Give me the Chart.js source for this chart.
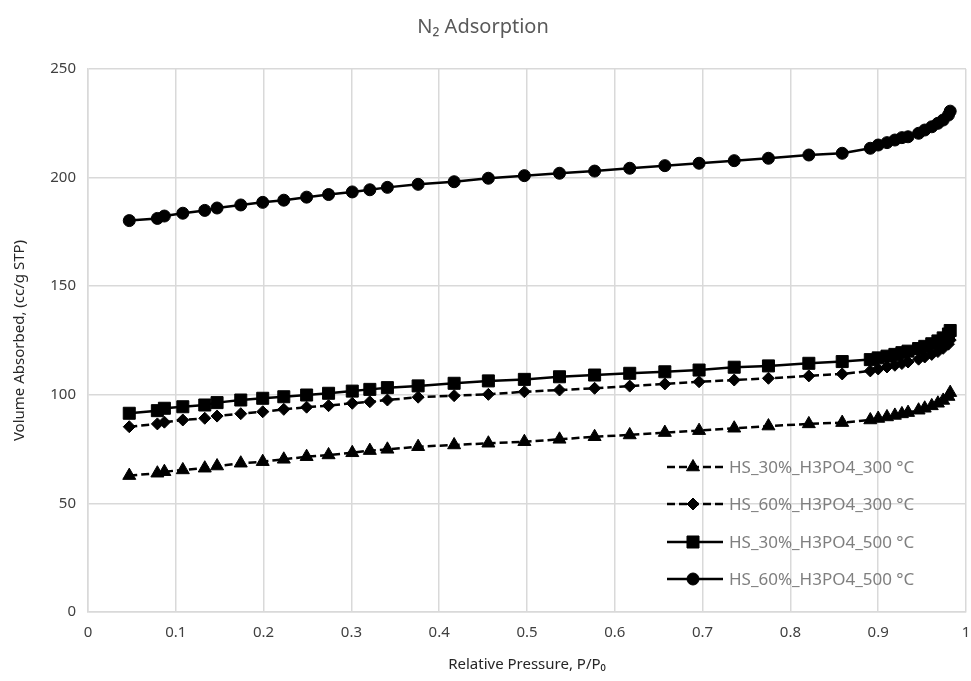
<!DOCTYPE html>
<html>
<head>
<meta charset="utf-8">
<title>N2 Adsorption</title>
<script src="https://cdn.jsdelivr.net/npm/chart.js@4.4.0/dist/chart.umd.min.js"></script>
<style>
  html, body { margin: 0; padding: 0; background: #fff; }
</style>
</head>
<body>
<canvas id="myChart" width="971" height="681"></canvas>
<script>
// relative pressure P/P0 (same for all four isotherms)
const pressure = [0.047, 0.079, 0.087, 0.108, 0.133, 0.147, 0.174, 0.199, 0.223, 0.249,
                  0.274, 0.301, 0.321, 0.341, 0.376, 0.417, 0.456, 0.497, 0.537, 0.577,
                  0.617, 0.657, 0.696, 0.736, 0.775, 0.821, 0.859, 0.891, 0.900, 0.910,
                  0.919, 0.927, 0.934, 0.946, 0.953, 0.961, 0.968, 0.974, 0.980, 0.982];

// volume absorbed, cc/g STP
const hs30_300 = [62.8, 63.9, 64.6, 65.4, 66.2, 67.2, 68.5, 69.2, 70.3, 71.5,
                  72.3, 73.3, 74.3, 74.9, 76.1, 76.9, 77.7, 78.4, 79.5, 80.7,
                  81.5, 82.6, 83.5, 84.6, 85.6, 86.6, 87.2, 88.4, 89.1, 89.8,
                  90.5, 91.2, 91.8, 92.9, 93.8, 94.9, 96.1, 97.4, 99.2, 101.0];
const hs60_300 = [85.3, 86.6, 87.4, 88.4, 89.2, 90.2, 91.3, 92.2, 93.3, 94.3,
                  95.0, 96.1, 96.8, 97.6, 98.9, 99.6, 100.2, 101.4, 102.2, 103.0,
                  104.0, 105.0, 106.0, 106.8, 107.6, 108.7, 109.6, 111.0, 111.9, 112.8,
                  113.6, 114.4, 115.1, 116.4, 117.4, 118.6, 119.9, 121.4, 123.3, 125.2];
const hs30_500 = [91.5, 92.7, 93.8, 94.5, 95.3, 96.4, 97.6, 98.4, 99.1, 99.9,
                  100.7, 101.7, 102.5, 103.3, 104.1, 105.3, 106.4, 107.1, 108.3, 109.1,
                  109.9, 110.6, 111.4, 112.7, 113.3, 114.5, 115.3, 116.2, 117.0, 117.8,
                  118.6, 119.4, 120.1, 121.3, 122.3, 123.5, 124.8, 126.2, 128.0, 129.6];
const hs60_500 = [180.2, 181.2, 182.3, 183.6, 184.9, 186.0, 187.4, 188.6, 189.6, 191.0,
                  192.2, 193.4, 194.4, 195.5, 196.9, 198.1, 199.7, 200.9, 202.0, 203.0,
                  204.3, 205.5, 206.6, 207.8, 208.9, 210.4, 211.2, 213.5, 215.0, 216.1,
                  217.3, 218.4, 218.8, 220.4, 221.9, 223.4, 225.0, 226.5, 228.8, 230.6];

const seriesNames = ['HS_30%_H3PO4_300 °C', 'HS_60%_H3PO4_300 °C',
                     'HS_30%_H3PO4_500 °C', 'HS_60%_H3PO4_500 °C'];

function pairUp(ys) {
    return pressure.map((p, i) => ({ x: p, y: ys[i] }));
}

function makeSet(label, ys, style, radius, dashed) {
    return {
        label: label,
        data: pairUp(ys),
        borderColor: '#000',
        backgroundColor: '#000',
        borderWidth: 2.5,
        borderDash: dashed ? [8, 4] : [],
        pointStyle: style,
        pointRadius: radius,
        pointBorderWidth: 1,
        pointBackgroundColor: '#000',
        pointBorderColor: '#000',
        showLine: true,
        tension: 0
    };
}

// marker drawn in the legend, same look as the plot points
function drawMarker(c, style, r, x, y) {
    c.beginPath();
    if (style === 'circle') {
        c.arc(x, y, r, 0, Math.PI * 2);
    } else if (style === 'rect') {
        const s = Math.SQRT1_2 * r;
        c.rect(x - s, y - s, 2 * s, 2 * s);
    } else if (style === 'rectRot') {
        c.moveTo(x - r, y); c.lineTo(x, y - r); c.lineTo(x + r, y); c.lineTo(x, y + r);
    } else if (style === 'triangle') {
        const a = 2 * Math.PI / 3;
        c.moveTo(x, y - r);
        c.lineTo(x + Math.sin(a) * r, y - Math.cos(a) * r);
        c.lineTo(x + Math.sin(2 * a) * r, y - Math.cos(2 * a) * r);
    }
    c.closePath();
    c.fill();
    c.stroke();
}

const insideLegend = {
    id: 'insideLegend',
    afterDraw(chart) {
        const c = chart.ctx;
        const rows = [467, 504, 542, 579];
        c.save();
        chart.data.datasets.forEach((ds, i) => {
            const y = rows[i];
            c.strokeStyle = '#000';
            c.fillStyle = '#000';
            c.lineWidth = 2.5;
            c.setLineDash(ds.borderDash);
            c.beginPath();
            c.moveTo(667, y);
            c.lineTo(723, y);
            c.stroke();
            c.setLineDash([]);
            c.lineWidth = 1;
            drawMarker(c, ds.pointStyle, ds.pointRadius, 693, y);
            c.fillStyle = '#7f7f7f';
            c.font = '17px "Noto Sans"';
            c.textBaseline = 'middle';
            c.textAlign = 'left';
            c.fillText(ds.label, 729, y + 1);
        });
        c.restore();
    }
};

const gridColor = '#d9d9d9';
const tickFont = { family: 'Noto Sans', size: 15 };

const config = {
    type: 'scatter',
    data: {
        datasets: [
            makeSet(seriesNames[0], hs30_300, 'triangle', 7.5, true),
            makeSet(seriesNames[1], hs60_300, 'rectRot', 6, true),
            makeSet(seriesNames[2], hs30_500, 'rect', 8.5, false),
            makeSet(seriesNames[3], hs60_500, 'circle', 6, false)
        ]
    },
    options: {
        responsive: false,
        animation: false,
        layout: { autoPadding: false, padding: { left: 0, right: 5, top: 0, bottom: 0 } },
        plugins: {
            legend: { display: false },
            tooltip: { enabled: false },
            title: {
                display: true,
                text: 'N₂ Adsorption',
                color: '#595959',
                font: { family: 'Noto Sans', size: 20, weight: 'normal' },
                padding: { top: 15, bottom: 30 }
            }
        },
        scales: {
            x: {
                type: 'linear',
                min: 0,
                max: 1,
                ticks: {
                    stepSize: 0.1, color: '#404040', font: tickFont, padding: 12,
                    callback: (v) => String(Number(v.toFixed(1)))
                },
                grid: { color: gridColor, lineWidth: 1.5, drawTicks: false },
                border: { color: gridColor, width: 1.5 },
                title: {
                    display: true,
                    text: 'Relative Pressure, P/P₀',
                    color: '#262626',
                    font: { family: 'Noto Sans', size: 15 },
                    padding: { top: 0, bottom: 7 }
                },
                afterFit(scale) {
                    scale.height = 69;
                    scale.paddingLeft = 0;
                    scale.paddingRight = 0;
                }
            },
            y: {
                type: 'linear',
                min: 0,
                max: 250,
                ticks: { stepSize: 50, color: '#404040', font: tickFont, padding: 12 },
                grid: { color: gridColor, lineWidth: 1.5, drawTicks: false },
                border: { color: gridColor, width: 1.5 },
                title: {
                    display: true,
                    text: 'Volume Absorbed, (cc/g STP)',
                    color: '#262626',
                    font: { family: 'Noto Sans', size: 15 },
                    padding: { top: 11, bottom: 0 }
                },
                afterFit(scale) { scale.width = 88; }
            }
        }
    },
    plugins: [insideLegend]
};

var canvas = document.getElementById('myChart');
var ctx = canvas.getContext('2d');
var myChart = new Chart(ctx, config);
</script>
</body>
</html>
